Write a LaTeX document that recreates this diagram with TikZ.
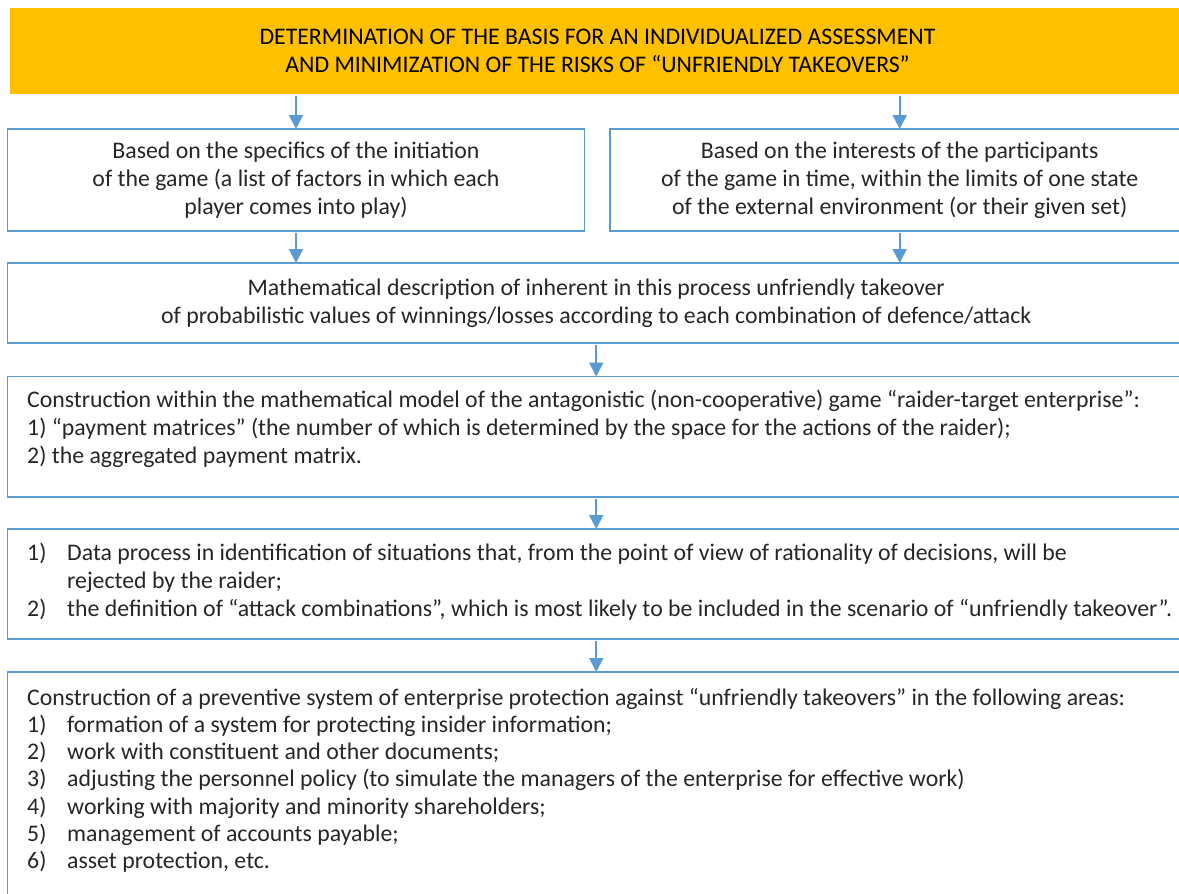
\documentclass[tikz,border=0pt]{standalone}
\usepackage{fontspec}
\setmainfont{Carlito}
\usetikzlibrary{arrows.meta,positioning}
\definecolor{ffcqqq}{rgb}{1.,0.753,0.}
\definecolor{blueline}{rgb}{0.357,0.608,0.835}
\definecolor{inkgray}{rgb}{0.15,0.15,0.15}
\newcommand{\nitem}[1]{\makebox[40pt][l]{#1}}

\begin{document}
\begin{tikzpicture}[x=1pt,y=-1pt,
  font=\fontsize{23.8}{28}\selectfont,
  topbox/.style={fill=ffcqqq,anchor=north west,inner sep=0pt,outer sep=0pt,
    align=center,text=black,font=\fontsize{23.8}{28.5}\selectfont},
  stepbox/.style={draw=blueline,line width=1.8pt,anchor=north west,inner sep=0pt,
    outer sep=0pt,align=center,text=inkgray},
  listtext/.style={anchor=north west,inner sep=0pt,align=left,text=inkgray},
  arr/.style={draw=blueline,line width=2pt,-{Triangle[width=14pt,length=14pt]},shorten <=2pt}]
\useasboundingbox (0,0) rectangle (1179,894);
\clip (0,0) rectangle (1179,894);
% header
\node[topbox,minimum width=1175pt,minimum height=85.5pt] (top) at (10,8)
  {DETERMINATION OF THE BASIS FOR AN INDIVIDUALIZED ASSESSMENT\\
   AND MINIMIZATION OF THE RISKS OF “UNFRIENDLY TAKEOVERS”};
% two bases
\node[stepbox,minimum width=577pt,minimum height=102pt] (specifics) at (7.5,129)
  {Based on the specifics of the initiation\\
   of the game (a list of factors in which each\\
   player comes into play)};
\node[stepbox,minimum width=580pt,minimum height=102pt] (interests) at (609.7,129)
  {Based on the interests of the participants\\
   of the game in time, within the limits of one state\\
   of the external environment (or their given set)};
% description
\node[stepbox,minimum width=1177.5pt,minimum height=80pt] (description) at (7.5,263)
  {Mathematical description of inherent in this process unfriendly takeover\\
   of probabilistic values of winnings/losses according to each combination of defence/attack};
% model
\node[stepbox,minimum width=1177.5pt,minimum height=120.5pt] (model) at (7.5,376.5) {};
\node[listtext] (modeltext) at (27,390)
  {Construction within the mathematical model of the antagonistic (non-cooperative) game “raider-target enterprise”:\\
   1) “payment matrices” (the number of which is determined by the space for the actions of the raider);\\
   2) the aggregated payment matrix.};
% analysis
\node[stepbox,minimum width=1177.5pt,minimum height=110pt] (analysis) at (7.5,529) {};
\node[listtext] (analysistext) at (27,543)
  {\nitem{1)}Data process in identification of situations that, from the point of view of rationality of decisions, will be\\
   \hspace*{40pt}rejected by the raider;\\
   \nitem{2)}the definition of “attack combinations”, which is most likely to be included in the scenario of “unfriendly takeover”.};
% protection
\node[stepbox,minimum width=1177.5pt,minimum height=300pt] (protection) at (7.5,672) {};
\node[listtext,font=\fontsize{23.8}{27.2}\selectfont] (protectiontext) at (27,688)
  {Construction of a preventive system of enterprise protection against “unfriendly takeovers” in the following areas:\\
   \nitem{1)}formation of a system for protecting insider information;\\
   \nitem{2)}work with constituent and other documents;\\
   \nitem{3)}adjusting the personnel policy (to simulate the managers of the enterprise for effective work)\\
   \nitem{4)}working with majority and minority shareholders;\\
   \nitem{5)}management of accounts payable;\\
   \nitem{6)}asset protection, etc.};
% arrows
\draw[arr] (top.south -| specifics.north) -- (specifics.north);
\draw[arr] (top.south -| interests.north) -- (interests.north);
\draw[arr] (specifics.south) -- (specifics.south |- description.north);
\draw[arr] (interests.south) -- (interests.south |- description.north);
\draw[arr] (description.south) -- (model.north);
\draw[arr] (model.south) -- (analysis.north);
\draw[arr] (analysis.south) -- (protection.north);
\end{tikzpicture}
\end{document}
